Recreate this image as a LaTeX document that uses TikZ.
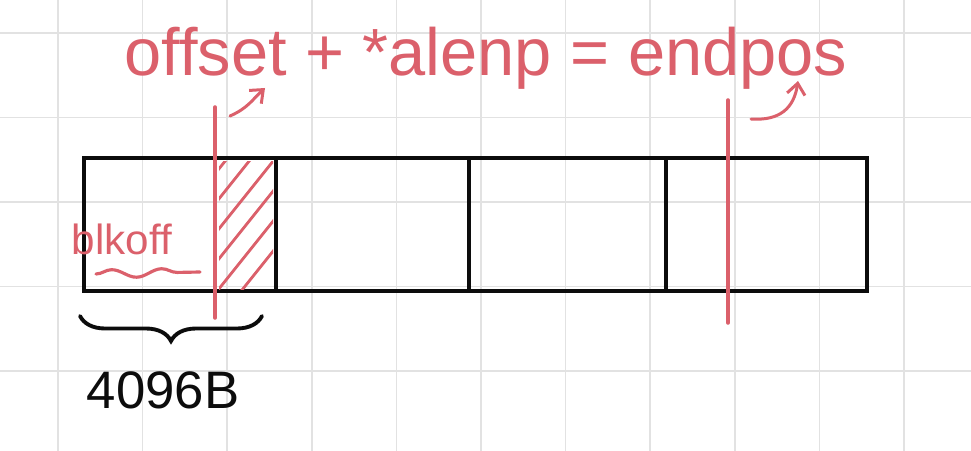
\documentclass[tikz,border=0pt]{standalone}
\usepackage{fontspec}
\setmainfont{Liberation Sans}
\usepackage{xcolor}
\usepackage{tikz}
\usetikzlibrary{arrows.meta,positioning,decorations.pathreplacing,decorations.pathmorphing}
\definecolor{inkred}{RGB}{219,96,107}
\definecolor{inkblack}{RGB}{12,12,12}
\definecolor{gridgrey}{RGB}{226,226,226}
\tikzset{
  gridline/.style={draw=gridgrey,line width=0.9pt},
  blockcell/.style={draw=inkblack,line width=2.3pt,minimum width=#1,
    minimum height=26.6mm,inner sep=0pt,outer sep=0pt},
  redline/.style={draw=inkred,line width=2pt,line cap=round},
  hatch/.style={draw=inkred,line width=1.6pt,line cap=round},
  inkarrow/.style={draw=inkred,line width=1.7pt,line cap=round,
    -{Straight Barb[length=2.2mm,width=3.6mm]}},
  wavyline/.style={draw=inkred,line width=1.8pt,line cap=round,
    decorate,decoration={snake,amplitude=0.8mm,segment length=10mm}},
  sizebrace/.style={draw=inkblack,line width=2.2pt,line cap=round,
    decorate,decoration={brace,mirror,amplitude=5mm}},
  eqlabel/.style={text=inkred,font=\fontsize{38}{44}\selectfont,inner sep=0pt},
  offlabel/.style={text=inkred,font=\fontsize{24}{28}\selectfont,inner sep=0pt},
  sizelabel/.style={text=inkblack,font=\fontsize{30}{36}\selectfont,inner sep=0pt}
}

\begin{document}
\begin{tikzpicture}[x=0.2mm,y=-0.2mm]
  \useasboundingbox (0,0) rectangle (971,451);
  \fill[white] (0,0) rectangle (971,451);
  % grid paper
  \foreach \gx in {0,...,10}
    \draw[gridline] ({58+84.6*\gx},0) -- ++(0,451);
  \foreach \gy in {0,...,4}
    \draw[gridline] (0,{33+84.5*\gy}) -- ++(971,0);

  % four blocks
  \node[blockcell=38.4mm,anchor=north west] (blk1) at (84,158) {};
  \node[blockcell=38.6mm,right=0pt of blk1] (blk2) {};
  \node[blockcell=39.4mm,right=0pt of blk2] (blk3) {};
  \node[blockcell=40.2mm,right=0pt of blk3] (blk4) {};

  % hatched tail of the first block
  \begin{scope}
    \clip (219,161) rectangle (273,289);
    \foreach \hy in {170,200,230,260,290,320}
      \draw[hatch] (198,{\hy+25}) -- ++(100,-125);
  \end{scope}

  % offset and endpos marks
  \coordinate (offtop) at (215,107);
  \coordinate (offbot) at (215,318);
  \coordinate (endtop) at (728,100);
  \coordinate (endbot) at (728,323);
  \draw[redline] (offtop) -- (offbot);
  \draw[redline] (endtop) -- (endbot);
  \coordinate (offtail) at (230,116);
  \coordinate (offhead) at (265,88);
  \coordinate (endtail) at (751,119);
  \coordinate (endhead) at (798,81);
  \draw[inkarrow] (offtail) .. controls (248,108) and (252,100) .. (offhead);
  \draw[inkarrow] (endtail) .. controls (780,121) and (794,108) .. (endhead);

  \node[eqlabel,anchor=base] (formula) at (486,76) {offset + *alenp = endpos};

  % blkoff inside the first block
  \node[offlabel,anchor=base] (blkoff) at (122,254) {blkoff};
  \coordinate (waveleft) at (96,274);
  \coordinate (waveright) at (200,272);
  \draw[wavyline] (waveleft) -- (waveright);

  % block size
  \coordinate (braceleft) at (80,316);
  \coordinate (braceright) at (262,316);
  \draw[sizebrace] (braceleft) -- (braceright);
  \node[sizelabel,anchor=base] (blksize) at (163,408) {4096B};
\end{tikzpicture}
\end{document}
